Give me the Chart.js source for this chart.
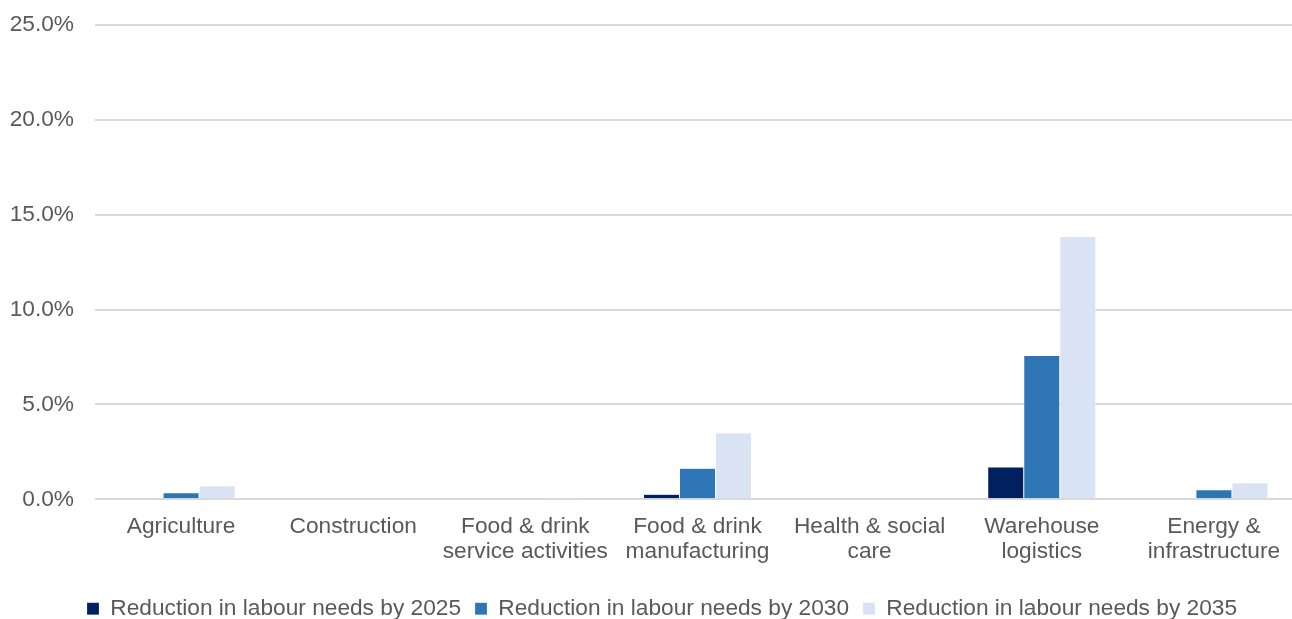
<!DOCTYPE html>
<html>
<head>
<meta charset="utf-8">
<script src="https://cdn.jsdelivr.net/npm/chart.js@4/dist/chart.umd.min.js"></script>
<style>
  html, body { margin: 0; padding: 0; background: #ffffff; overflow: hidden; }
  #wrap { width: 1292px; height: 619px; overflow: hidden; position: relative; }
  #box { width: 1324px; height: 630px; position: absolute; left: 0; top: 0; }
</style>
</head>
<body>
<div id="wrap"><div id="box"><canvas id="chart"></canvas></div></div>
<script>
// Sectors (x-axis categories)
const categories = [
  'Agriculture',
  'Construction',
  ['Food & drink', 'service activities'],
  ['Food & drink', 'manufacturing'],
  ['Health & social', 'care'],
  ['Warehouse', 'logistics'],
  ['Energy &', 'infrastructure']
];

// Reduction in labour needs, percent of workforce
const by2025 = [0.05, 0.05, 0.05, 0.27, 0.05, 1.70, 0.05];
const by2030 = [0.35, 0.05, 0.05, 1.64, 0.05, 7.58, 0.50];
const by2035 = [0.72, 0.00, 0.10, 3.50, 0.00, 13.85, 0.87];

const seriesNames = [
  'Reduction in labour needs by 2025',
  'Reduction in labour needs by 2030',
  'Reduction in labour needs by 2035'
];

// Y-axis tick range (percent)
const yMin = 0;
const yMax = 25;
const yStep = 5;

const FONT = { family: '"Liberation Sans", Arial, sans-serif', size: 22.7, lineHeight: 1.1 };
const TEXT = '#595959';

new Chart(document.getElementById('chart'), {
  type: 'bar',
  data: {
    labels: categories,
    datasets: [
      { label: seriesNames[0], data: by2025, backgroundColor: '#002060', borderColor: 'rgba(255,255,255,0.35)', borderWidth: 0.5 },
      { label: seriesNames[1], data: by2030, backgroundColor: '#2E75B6', borderColor: 'rgba(255,255,255,0.35)', borderWidth: 0.5 },
      { label: seriesNames[2], data: by2035, backgroundColor: '#DAE3F3', borderColor: 'rgba(255,255,255,0.35)', borderWidth: 0.5 }
    ]
  },
  options: {
    responsive: true,
    maintainAspectRatio: false,
    animation: false,
    layout: { padding: { top: 25, left: 0, right: 0, bottom: 0 } },
    datasets: { bar: { barPercentage: 1.0, categoryPercentage: 0.628 } },
    plugins: {
      tooltip: { enabled: false },
      legend: {
        position: 'bottom',
        labels: {
          font: FONT,
          color: TEXT,
          boxWidth: 12,
          boxHeight: 12,
          padding: 14
        }
      }
    },
    scales: {
      x: {
        grid: { display: false, drawTicks: false },
        border: { display: false },
        ticks: { font: FONT, color: TEXT, padding: 15, maxRotation: 0, autoSkip: false },
        afterFit: (s) => { s.height = 84; }
      },
      y: {
        min: yMin,
        max: yMax,
        grid: { color: '#d9d9d9', lineWidth: 2, drawTicks: false },
        border: { display: false },
        ticks: {
          stepSize: yStep,
          font: FONT,
          color: TEXT,
          padding: 21,
          callback: (v) => v.toFixed(1) + '%'
        },
        afterFit: (s) => { s.width = 95; s.paddingTop = 12; s.paddingBottom = 12; }
      },
      // empty right-hand spacer so the plot ends where the page edge cuts it
      spacer: {
        type: 'linear',
        position: 'right',
        display: true,
        grid: { display: false, drawTicks: false },
        border: { display: false },
        ticks: { display: false },
        afterFit: (s) => { s.width = 24; s.paddingTop = 0; s.paddingBottom = 0; }
      }
    }
  }
});
</script>
</body>
</html>
